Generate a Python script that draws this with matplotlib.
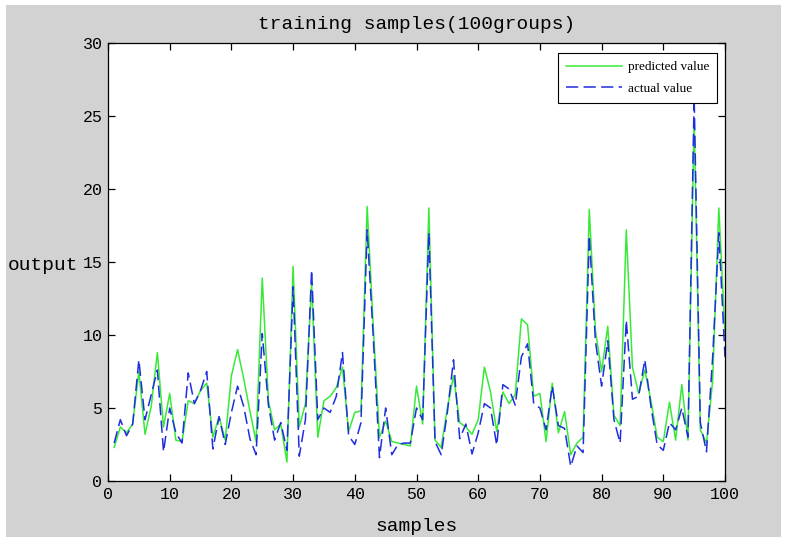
import numpy as np
import matplotlib
matplotlib.use("Agg")
import matplotlib.pyplot as plt
from matplotlib.patches import Rectangle

# ── data ─────────────────────────────────────────────────────────────────────
samples = np.arange(1, 101)

predicted = [
    2.3, 3.7, 3.3, 3.9, 7.5, 3.2, 5.1, 8.8, 3.7, 6.0,
    2.8, 2.7, 5.5, 5.3, 6.2, 6.7, 3.0, 4.4, 2.8, 7.2,
    9.0, 7.0, 4.8, 2.7, 13.9, 5.5, 3.5, 3.9, 1.3, 14.7,
    3.7, 5.3, 13.5, 3.0, 5.5, 5.8, 6.4, 7.8, 3.4, 4.7,
    4.8, 18.8, 10.5, 3.0, 4.1, 2.7, 2.6, 2.5, 2.4, 6.5,
    3.9, 18.7, 2.8, 2.3, 5.0, 7.2, 4.0, 3.7, 3.2, 4.2,
    7.8, 6.1, 3.4, 6.1, 5.3, 5.9, 11.1, 10.7, 5.8, 6.0,
    2.7, 6.7, 3.3, 4.75, 1.8, 2.6, 3.0, 18.6, 10.3, 7.5,
    10.6, 4.5, 3.8, 17.2, 7.8, 6.0, 7.6, 5.5, 3.0, 2.7,
    5.4, 2.8, 6.6, 2.8, 24.8, 3.5, 2.6, 6.9, 18.7, 10.1,
]

actual = [
    2.6, 4.2, 3.1, 3.9, 8.3, 4.2, 5.9, 7.6, 2.0, 5.0,
    3.3, 2.6, 7.4, 5.3, 6.2, 7.5, 2.2, 4.4, 2.5, 4.7,
    6.5, 5.1, 2.9, 1.8, 10.1, 5.2, 2.8, 4.0, 2.1, 13.3,
    1.7, 4.2, 14.45, 4.2, 5.0, 4.7, 5.8, 8.8, 3.1, 2.5,
    4.0, 17.2, 9.8, 1.6, 5.0, 1.8, 2.5, 2.6, 2.6, 5.0,
    4.2, 17.0, 2.7, 1.8, 4.7, 8.3, 2.9, 3.9, 1.85, 3.3,
    5.3, 5.0, 2.45, 6.6, 6.3, 5.2, 8.5, 9.4, 5.3, 5.0,
    3.5, 6.5, 3.8, 3.6, 1.0, 2.4, 1.95, 16.8, 9.6, 6.5,
    9.6, 4.2, 2.6, 11.0, 5.6, 5.8, 8.3, 5.1, 2.5, 2.1,
    4.0, 3.5, 5.0, 3.0, 26.3, 4.0, 2.0, 8.5, 17.0, 8.5,
]

x_ticks = list(range(0, 101, 10))
y_ticks = list(range(0, 31, 5))

MONO = "Liberation Mono"

# ── figure ───────────────────────────────────────────────────────────────────
fig = plt.figure(figsize=(7.87, 5.37), dpi=100)
fig.patch.set_facecolor("white")
# grey MATLAB-style window area with a thin white margin
fig.patches.append(Rectangle((6 / 787, 0), 1 - 12 / 787, 1 - 5 / 537,
                             transform=fig.transFigure, facecolor="#d2d2d2",
                             edgecolor="none", zorder=-10))

ax = fig.add_axes([108 / 787, 1 - 481 / 537, 617 / 787, 438 / 537])
ax.set_facecolor("white")

ax.plot(samples, predicted, color="#38ea38", lw=1.1, label="predicted value")
ax.plot(samples, actual, color="#1f2ee0", lw=1.1, dashes=(8, 3.5),
        label="actual value")

ax.set_xlim(0, 100)
ax.set_ylim(0, 30)
ax.set_xticks(x_ticks)
ax.set_yticks(y_ticks)
ax.tick_params(direction="in", length=5, width=0.9, top=True, right=True,
               labelsize=12, pad=4)
for lab in ax.get_xticklabels() + ax.get_yticklabels():
    lab.set_family(MONO)
for s in ax.spines.values():
    s.set_linewidth(0.9)

ax.set_title("training samples(100groups)", family=MONO, fontsize=14, pad=10)
ax.set_xlabel("samples", family=MONO, fontsize=14, labelpad=12)
fig.text(8 / 787, 1 - 265 / 537, "output", family=MONO, fontsize=14,
         ha="left", va="center")

leg = ax.legend(loc="upper right", bbox_to_anchor=(0.987, 0.977),
                prop={"family": "Liberation Serif", "size": 9.5},
                handlelength=4.2, handletextpad=0.45, fancybox=False,
                framealpha=1, edgecolor="black", borderaxespad=0,
                borderpad=0.6, labelspacing=0.7)
leg.get_frame().set_linewidth(0.8)

fig.savefig("out.png", dpi=100, facecolor=fig.get_facecolor())
